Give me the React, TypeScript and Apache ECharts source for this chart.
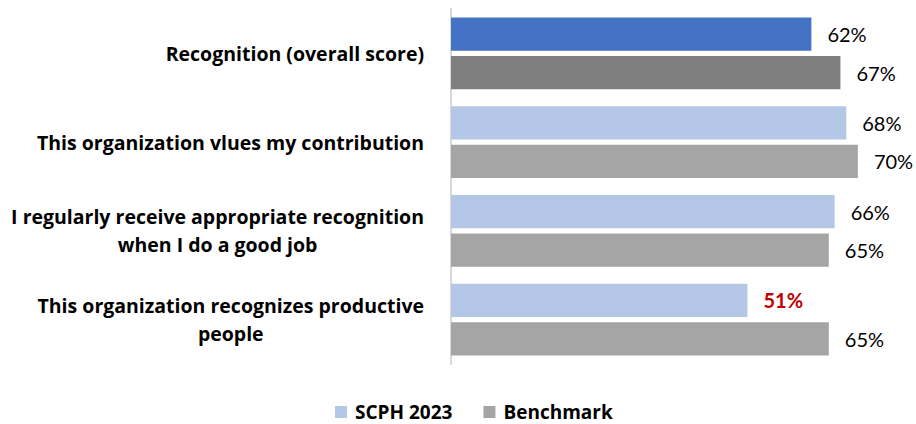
import React, { useEffect, useRef } from "react";
import * as echarts from "echarts";

const categories = [
  "Recognition (overall score)",
  "This organization vlues my contribution",
  "I regularly receive appropriate recognition\nwhen I do a good job",
  "This organization recognizes productive\npeople",
];
const scph2023 = [62, 68, 66, 51];
const benchmark = [67, 70, 65, 65];
const seriesNames = ["SCPH 2023", "Benchmark"];

const LABEL_FONT = "Open Sans";
const VALUE_FONT = "Lato";

export default function App() {
  const ref = useRef<HTMLDivElement>(null);
  useEffect(() => {
    if (!ref.current) return;
    const chart = echarts.init(ref.current, undefined, { renderer: "svg" });
    const labelBase = {
      show: true,
      position: "right" as const,
      distance: 16,
      formatter: "{c}%",
      fontSize: 20,
      fontFamily: VALUE_FONT,
      color: "#000",
    };
    chart.setOption({
      animation: false,
      backgroundColor: "#fff",
      grid: { left: 451, right: 0, top: 9, bottom: 60, containLabel: false },
      xAxis: {
        type: "value",
        min: 0,
        max: 80,
        show: false,
        splitLine: { show: false },
      },
      yAxis: {
        type: "category",
        inverse: true,
        data: categories,
        axisLine: { show: true, lineStyle: { color: "#D9D9D9", width: 2 } },
        axisTick: { show: false },
        axisLabel: {
          margin: 27,
          color: "#000",
          formatter: (v: string) =>
            v
              .split("\n")
              .map((s) => `{c|${s}}`)
              .join("\n"),
          rich: {
            c: {
              align: "center",
              fontWeight: "bold",
              fontSize: 19.5,
              fontFamily: LABEL_FONT,
              color: "#000",
              lineHeight: 28,
            },
          },
        },
      },
      legend: {
        left: 335,
        top: 402,
        padding: 0,
        icon: "rect",
        itemWidth: 12,
        itemHeight: 12,
        itemGap: 31,
        textStyle: {
          fontSize: 19,
          lineHeight: 20,
          fontWeight: "bold",
          fontFamily: LABEL_FONT,
          color: "#000",
          padding: [0, 0, 0, 3],
        },
        data: seriesNames,
      },
      series: [
        {
          name: seriesNames[0],
          type: "bar",
          barGap: "15%",
          barCategoryGap: "19%",
          itemStyle: { color: "#B4C7E7" },
          label: labelBase,
          data: scph2023.map((v, i) => {
            const d: any = { value: v };
            if (i === 0) d.itemStyle = { color: "#4472C4" };
            if (v < 60) d.label = { color: "#C00000", fontWeight: "bold" };
            return d;
          }),
        },
        {
          name: seriesNames[1],
          type: "bar",
          barGap: "15%",
          barCategoryGap: "19%",
          itemStyle: { color: "#A5A5A5" },
          label: labelBase,
          data: benchmark.map((v, i) => {
            const d: any = { value: v };
            if (i === 0) d.itemStyle = { color: "#7F7F7F" };
            return d;
          }),
        },
      ],
    });
    return () => chart.dispose();
  }, []);
  return (
    <div
      ref={ref}
      style={{ position: "fixed", left: 0, top: 0, width: 916, height: 424 }}
    />
  );
}
